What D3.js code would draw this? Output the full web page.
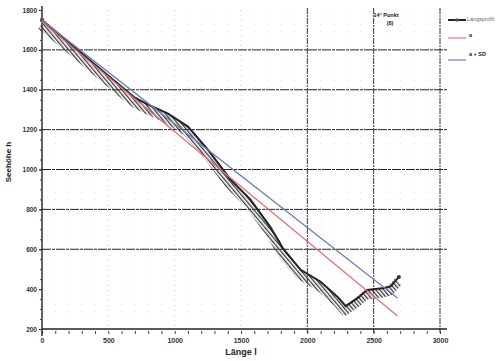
<!DOCTYPE html>
<html>
<head>
<meta charset="utf-8">
<script src="https://cdn.jsdelivr.net/npm/d3@7"></script>
<style>
  body { margin: 0; background: #fff; }
  svg { font-family: "Liberation Sans", Arial, sans-serif; }
</style>
</head>
<body>
<svg id="chart" width="496" height="361"></svg>
<script>
// profile (Längsprofil)
const profileX = [0, 250, 500, 700, 800, 950, 1100, 1250, 1420, 1570, 1720, 1820, 1950, 2100, 2230, 2290, 2380, 2450, 2580, 2630, 2690];
const profileY = [1750, 1610, 1470, 1360, 1325, 1280, 1215, 1100, 950, 850, 712, 600, 497, 437, 360, 315, 356, 396, 406, 415, 461];

// fitted lines a and a + SD
const lineX = [0, 2680];
const aY = [1740, 265];
const aSdY = [1748, 355];

const xTicks = [0, 500, 1000, 1500, 2000, 2500, 3000];
const yTicks = [200, 400, 600, 800, 1000, 1200, 1400, 1600, 1800];
const hGrid = [600, 800, 1000, 1200, 1400, 1600];
const vGrid = [2000, 2500, 3000];

const legendLabels = ["Längsprofil", "a", "a + SD"];

const svg = d3.select("#chart");
const x = d3.scaleLinear().domain([0, 3000]).range([42, 440]);
const y = d3.scaleLinear().domain([200, 1800]).range([329, 10]);

// hatch pattern for the shadowed profile band
const defs = svg.append("defs");
defs.append("pattern")
  .attr("id", "hatch")
  .attr("patternUnits", "userSpaceOnUse")
  .attr("width", 3).attr("height", 3)
  .attr("patternTransform", "rotate(-40)")
  .append("rect")
  .attr("width", 1.3).attr("height", 3)
  .attr("fill", "#3a3a3a");

// faint dotted minor grid
const minorX = d3.range(100, 3000, 100).filter(d => d % 500 != 0);
svg.append("g").selectAll("line").data(minorX).enter().append("line")
  .attr("x1", d => x(d)).attr("x2", d => x(d))
  .attr("y1", y(1800)).attr("y2", y(200))
  .attr("stroke", "#ccc").attr("stroke-width", 0.6)
  .attr("stroke-dasharray", "1,6");

svg.append("g").selectAll("line").data([500, 1000, 1500]).enter().append("line")
  .attr("x1", d => x(d)).attr("x2", d => x(d))
  .attr("y1", y(1800)).attr("y2", y(200))
  .attr("stroke", "#bbb").attr("stroke-width", 0.7)
  .attr("stroke-dasharray", "1,4");

// horizontal grid
svg.append("g").selectAll("line").data(hGrid).enter().append("line")
  .attr("x1", x(0)).attr("x2", 447)
  .attr("y1", d => y(d)).attr("y2", d => y(d))
  .attr("stroke", "#222").attr("stroke-width", 1)
  .attr("stroke-dasharray", "9,1,3,1");

// vertical grid
svg.append("g").selectAll("line").data(vGrid).enter().append("line")
  .attr("x1", d => x(d)).attr("x2", d => x(d))
  .attr("y1", y(1800) - 2).attr("y2", y(200) + 4)
  .attr("stroke", "#333").attr("stroke-width", 1)
  .attr("stroke-dasharray", "6,1,2,1");

// axes
const xAxis = d3.axisBottom(x).tickValues(xTicks).tickSize(0).tickPadding(9).tickFormat(d3.format("d"));
const gx = svg.append("g").attr("transform", "translate(0," + y(200) + ")").call(xAxis);
gx.select(".domain").attr("d", "M" + x(0) + ",0H447").attr("stroke", "#222").attr("stroke-width", 1.3);
gx.selectAll("text").attr("font-size", 7).attr("fill", "#333").attr("font-weight", "bold");

const gxMinor = svg.append("g").attr("transform", "translate(0," + y(200) + ")")
  .call(d3.axisBottom(x).tickValues(d3.range(0, 3001, 100)).tickSize(3).tickFormat(""));
gxMinor.select(".domain").remove();
gxMinor.selectAll("line").attr("stroke", "#444").attr("transform", "translate(0,2)");

const yAxis = d3.axisLeft(y).tickValues(yTicks).tickSize(3).tickPadding(2).tickFormat(d3.format("d"));
const gy = svg.append("g").attr("transform", "translate(" + x(0) + ",0)").call(yAxis);
gy.select(".domain").attr("d", "M0,6V336").attr("stroke", "#222").attr("stroke-width", 1.4);
gy.selectAll("text").attr("font-size", 6.5).attr("fill", "#333").attr("font-weight", "bold");

const gyMinor = svg.append("g").attr("transform", "translate(" + x(0) + ",0)")
  .call(d3.axisLeft(y).tickValues(d3.range(200, 1801, 50)).tickSize(2).tickFormat(""));
gyMinor.select(".domain").remove();
gyMinor.selectAll("line").attr("stroke", "#444");

// axis titles
svg.append("text")
  .attr("transform", "translate(11,162) rotate(-90)")
  .attr("text-anchor", "middle")
  .attr("font-size", 8).attr("font-weight", "bold").attr("fill", "#222")
  .text("Seehöhe h");
svg.append("text")
  .attr("x", 241).attr("y", 355)
  .attr("text-anchor", "middle")
  .attr("font-size", 9).attr("font-weight", "bold").attr("fill", "#222")
  .text("Länge l");

// annotation
svg.append("text").attr("x", 386).attr("y", 17).attr("text-anchor", "middle")
  .attr("font-size", 5.5).attr("font-weight", "bold").attr("fill", "#222").text("14° Punkt");
svg.append("text").attr("x", 390).attr("y", 25).attr("text-anchor", "middle")
  .attr("font-size", 5.5).attr("font-weight", "bold").attr("fill", "#222").text("(8)");

// data lines
const profile = profileX.map((d, i) => [d, profileY[i]]);
const aLine = lineX.map((d, i) => [d, aY[i]]);
const aSdLine = lineX.map((d, i) => [d, aSdY[i]]);
const line = d3.line().x(d => x(d[0])).y(d => y(d[1]));

svg.append("path").datum(profile)
  .attr("d", line)
  .attr("transform", "translate(-1,5)")
  .attr("fill", "none")
  .attr("stroke", "url(#hatch)")
  .attr("stroke-width", 9)
  .attr("stroke-linejoin", "round");

svg.append("path").datum(profile)
  .attr("d", line)
  .attr("fill", "none")
  .attr("stroke", "#222")
  .attr("stroke-width", 2);

svg.append("circle").attr("cx", x(profile[0][0])).attr("cy", y(profile[0][1])).attr("r", 2.2).attr("fill", "#555");
svg.append("circle").attr("cx", x(profile[profile.length - 1][0])).attr("cy", y(profile[profile.length - 1][1])).attr("r", 2).attr("fill", "#333");

svg.append("path").datum(aLine)
  .attr("d", line).attr("fill", "none")
  .attr("stroke", "#e0707a").attr("stroke-width", 1.3);

svg.append("path").datum(aSdLine)
  .attr("d", line).attr("fill", "none")
  .attr("stroke", "#6c7fb8").attr("stroke-width", 1.3);

// legend
const legendColors = ["#222", "#e8838b", "#7c8fc4"];
const legendY = [20, 38, 60];
const lg = svg.append("g");
lg.selectAll("line").data(legendLabels).enter().append("line")
  .attr("x1", 448).attr("x2", 466)
  .attr("y1", (d, i) => legendY[i]).attr("y2", (d, i) => legendY[i])
  .attr("stroke", (d, i) => legendColors[i])
  .attr("stroke-width", (d, i) => i == 0 ? 2 : 1.3);
lg.append("circle").attr("cx", 457).attr("cy", legendY[0]).attr("r", 1.8).attr("fill", "#555");
lg.selectAll("text").data(legendLabels).enter().append("text")
  .attr("x", (d, i) => i == 0 ? 467 : 469)
  .attr("y", (d, i) => i == 2 ? legendY[i] - 4 : legendY[i] - 1 + (i == 0 ? 2 : 0))
  .attr("font-size", 5.5)
  .attr("font-weight", (d, i) => i == 0 ? "normal" : "bold")
  .attr("fill", (d, i) => i == 0 ? "#666" : "#222")
  .text(d => d);
</script>
</body>
</html>
